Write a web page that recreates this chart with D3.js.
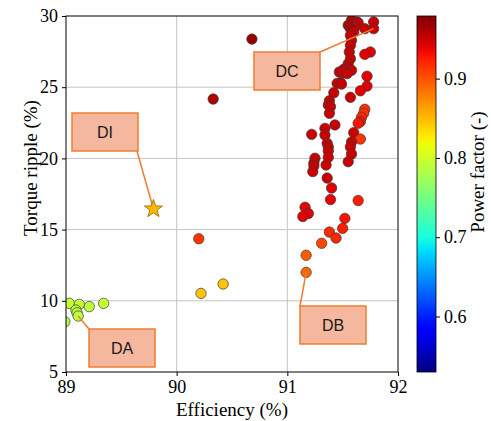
<!DOCTYPE html>
<html><head><meta charset="utf-8">
<script src="https://cdn.jsdelivr.net/npm/d3@7"></script>
<style>body{margin:0;background:#fff}</style>
</head><body><svg id="c" width="491" height="421"></svg>
<script>
// ---------------- data ----------------
const efficiency = [
  // DA group
  89.03, 89.12, 89.21, 89.34, 89.09, 89.10, 89.11, 88.99,
  // isolated designs
  90.68, 90.33, 90.20, 90.22, 90.42,
  // DB / DC group
  91.58, 91.63, 91.55, 91.64, 91.61, 91.57, 91.60, 91.57, 91.58, 91.57,
  91.56, 91.57, 91.55, 91.54, 91.51, 91.47, 91.50, 91.58, 91.54, 91.70,
  91.78, 91.78, 91.75, 91.70, 91.72, 91.48, 91.45, 91.49, 91.72, 91.42,
  91.66, 91.57, 91.38, 91.37, 91.39, 91.38, 91.70, 91.69, 91.67, 91.66,
  91.64, 91.43, 91.34, 91.22, 91.34, 91.60, 91.66, 91.58, 91.57, 91.36,
  91.37, 91.37, 91.37, 91.58, 91.55, 91.25, 91.24, 91.24, 91.23, 91.35,
  91.36, 91.40, 91.39, 91.64, 91.16, 91.19, 91.14, 91.52, 91.50, 91.38,
  91.44, 91.31, 91.17, 91.17
];
const torqueRipple = [
  9.82, 9.75, 9.59, 9.82, 9.35, 9.16, 8.93, 8.53,
  28.38, 24.17, 14.36, 10.52, 11.18,
  29.70, 29.58, 29.35, 29.53, 29.23, 29.11, 28.88, 28.64, 28.29, 27.94,
  27.47, 27.00, 26.65, 26.42, 26.26, 26.07, 26.02, 26.19, 25.95, 29.11,
  29.58, 29.11, 27.47, 27.31, 25.77, 25.32, 25.27, 25.22, 25.08, 24.61,
  24.75, 24.29, 24.05, 23.75, 23.63, 23.17, 23.45, 23.17, 22.89, 22.58,
  22.47, 22.35, 22.11, 21.69, 21.64, 21.81, 21.36, 21.15, 20.80, 21.06,
  20.80, 20.52, 20.08, 20.31, 19.77, 20.01, 19.68, 19.47, 19.07, 19.54,
  18.62, 17.92, 17.11, 17.04, 16.57, 16.13, 15.92, 15.79, 15.09, 14.83,
  14.41, 14.04, 13.20, 12.00
];
const powerFactor = [
  0.795, 0.795, 0.79, 0.795, 0.79, 0.79, 0.79, 0.78,
  0.97, 0.96, 0.915, 0.845, 0.845,
  0.96, 0.95, 0.96, 0.95, 0.95, 0.96, 0.95, 0.95, 0.95, 0.95,
  0.95, 0.95, 0.95, 0.95, 0.95, 0.95, 0.95, 0.95, 0.95, 0.95,
  0.95, 0.95, 0.94, 0.94, 0.94, 0.95, 0.95, 0.95, 0.94, 0.95,
  0.94, 0.95, 0.95, 0.95, 0.95, 0.95, 0.915, 0.915, 0.92, 0.93,
  0.93, 0.95, 0.95, 0.95, 0.95, 0.95, 0.915, 0.95, 0.95, 0.95,
  0.95, 0.95, 0.95, 0.95, 0.95, 0.95, 0.95, 0.95, 0.95, 0.95,
  0.95, 0.94, 0.94, 0.925, 0.94, 0.94, 0.94, 0.93, 0.925, 0.92,
  0.92, 0.905, 0.895, 0.89
];
const starEfficiency = [89.79];
const starRipple = [16.45];
const starPowerFactor = [0.85];

const xTicks = [89, 90, 91, 92];
const yTicks = [5, 10, 15, 20, 25, 30];
const cTicks = [0.6, 0.7, 0.8, 0.9];
const pfDomain = [0.53, 0.979];

const annotationLabels = ["DC", "DI", "DA", "DB"];
// anchor point in data units for each annotation
const annotationAnchorX = [91.78, 89.79, 89.11, 91.17];
const annotationAnchorY = [29.11, 16.45, 8.93, 12.00];

// ---------------- layout ----------------
const svg = d3.select("#c");
const L = 66, R = 398, T = 16, B = 372;
const x = d3.scaleLinear().domain([89, 92]).range([L, R]);
const y = d3.scaleLinear().domain([5, 30]).range([B, T]);

// jet colormap (matplotlib segment data)
const jr = d3.scaleLinear().domain([0,0.35,0.66,0.89,1]).range([0,0,1,1,0.5]).clamp(true);
const jg = d3.scaleLinear().domain([0,0.125,0.375,0.64,0.91,1]).range([0,0,1,1,0,0]).clamp(true);
const jb = d3.scaleLinear().domain([0,0.11,0.34,0.65,1]).range([0.5,1,1,0,0]).clamp(true);
const jet = t => d3.rgb(255*jr(t), 255*jg(t), 255*jb(t)).formatHex();
const cnorm = d3.scaleLinear().domain(pfDomain).range([0,1]).clamp(true);
const color = v => jet(cnorm(v));

const serif = "'Liberation Serif','Times New Roman',serif";

// grid
const g = svg.append("g");
g.selectAll(".gx").data(xTicks.slice(1,-1)).join("line")
  .attr("x1", d => x(d)).attr("x2", d => x(d)).attr("y1", T).attr("y2", B)
  .attr("stroke", "#c4c4c4").attr("stroke-width", 1);
g.selectAll(".gy").data(yTicks.slice(1,-1)).join("line")
  .attr("y1", d => y(d)).attr("y2", d => y(d)).attr("x1", L).attr("x2", R)
  .attr("stroke", "#c4c4c4").attr("stroke-width", 1);

// clip
svg.append("clipPath").attr("id","clip").append("rect")
  .attr("x", L).attr("y", T).attr("width", R-L).attr("height", B-T);

const idx = d3.range(efficiency.length);
svg.append("g").attr("clip-path","url(#clip)")
  .selectAll("circle").data(idx).join("circle")
  .attr("cx", i => x(efficiency[i])).attr("cy", i => y(torqueRipple[i]))
  .attr("r", 5.2)
  .attr("fill", i => color(powerFactor[i]))
  .attr("stroke", "#3a3a3a").attr("stroke-width", 0.7);

// frame
svg.append("rect").attr("x", L).attr("y", T).attr("width", R-L).attr("height", B-T)
  .attr("fill", "none").attr("stroke", "#000").attr("stroke-width", 1);

// axes
const ax = svg.append("g").attr("transform", `translate(0,${B})`)
  .call(d3.axisBottom(x).tickValues(xTicks).tickSize(4).tickPadding(4).tickFormat(d3.format("d")));
const ay = svg.append("g").attr("transform", `translate(${L},0)`)
  .call(d3.axisLeft(y).tickValues(yTicks).tickSize(4).tickPadding(4).tickFormat(d3.format("d")));
[ax, ay].forEach(a => {
  a.select(".domain").remove();
  a.selectAll("line").attr("stroke", "#000");
  a.selectAll("text").attr("font-family", serif).attr("font-size", 18).attr("fill", "#000");
});

svg.append("text").attr("x", 232).attr("y", 416).attr("text-anchor","middle")
  .attr("font-family", serif).attr("font-size", 19).text("Efficiency (%)");
svg.append("text").attr("transform","translate(37,168) rotate(-90)").attr("text-anchor","middle")
  .attr("font-family", serif).attr("font-size", 19).text("Torque ripple (%)");

// annotations
const boxFill = "#f5b79d", boxStroke = "#ed7d31";
const boxes = [[254,52],[72,113],[89,329],[300,306]];
const boxW = 66, boxH = 38;
const lineStart = [[254+boxW,52],[72+boxW-1,113+boxH],[89,329],[300,306]];
const an = svg.append("g");
annotationLabels.forEach((lab, i) => {
  an.append("line")
    .attr("x1", lineStart[i][0]).attr("y1", lineStart[i][1])
    .attr("x2", x(annotationAnchorX[i])).attr("y2", y(annotationAnchorY[i]))
    .attr("stroke", boxStroke).attr("stroke-width", 1.5);
});

// star
const starPath = (cx, cy, ro, ri) => {
  const pts = [];
  for (let k = 0; k < 10; k++) {
    const a = -Math.PI/2 + k*Math.PI/5;
    const r = k % 2 ? ri : ro;
    pts.push([cx + r*Math.cos(a), cy + r*Math.sin(a)]);
  }
  return "M" + pts.map(p => p.join(",")).join("L") + "Z";
};
svg.append("g").selectAll("path").data(d3.range(starEfficiency.length)).join("path")
  .attr("d", i => starPath(x(starEfficiency[i]), y(starRipple[i]), 9.5, 3.8))
  .attr("fill", i => color(starPowerFactor[i]))
  .attr("stroke", "#9a6200").attr("stroke-width", 0.8);

annotationLabels.forEach((lab, i) => {
  an.append("rect").attr("x", boxes[i][0]).attr("y", boxes[i][1])
    .attr("width", boxW).attr("height", boxH)
    .attr("fill", boxFill).attr("stroke", boxStroke).attr("stroke-width", 1.5);
  an.append("text").attr("x", boxes[i][0] + boxW/2).attr("y", boxes[i][1] + boxH/2 + 6)
    .attr("text-anchor","middle").attr("font-family","'Liberation Sans',Arial,sans-serif")
    .attr("font-size", 16).attr("fill","#1a1a1a").text(lab);
});

// colorbar
const cbX = 417, cbW = 19;
const cy = d3.scaleLinear().domain(pfDomain).range([B, T]);
const defs = svg.append("defs");
const grad = defs.append("linearGradient").attr("id","jetg")
  .attr("x1",0).attr("y1",1).attr("x2",0).attr("y2",0);
d3.range(0, 1.0001, 0.02).forEach(t => {
  grad.append("stop").attr("offset", t).attr("stop-color", jet(t));
});
svg.append("rect").attr("x", cbX).attr("y", T).attr("width", cbW).attr("height", B-T)
  .attr("fill","url(#jetg)").attr("stroke","#000").attr("stroke-width",0.8);
const ac = svg.append("g").attr("transform", `translate(${cbX+cbW},0)`)
  .call(d3.axisRight(cy).tickValues(cTicks).tickSize(4).tickPadding(4).tickFormat(d3.format(".1f")));
ac.select(".domain").remove();
ac.selectAll("line").attr("stroke","#000");
ac.selectAll("text").attr("font-family", serif).attr("font-size", 18).attr("fill","#000");
svg.append("text").attr("transform","translate(484,172) rotate(-90)").attr("text-anchor","middle")
  .attr("font-family", serif).attr("font-size", 19).text("Power factor (-)");
</script>
</body></html>
